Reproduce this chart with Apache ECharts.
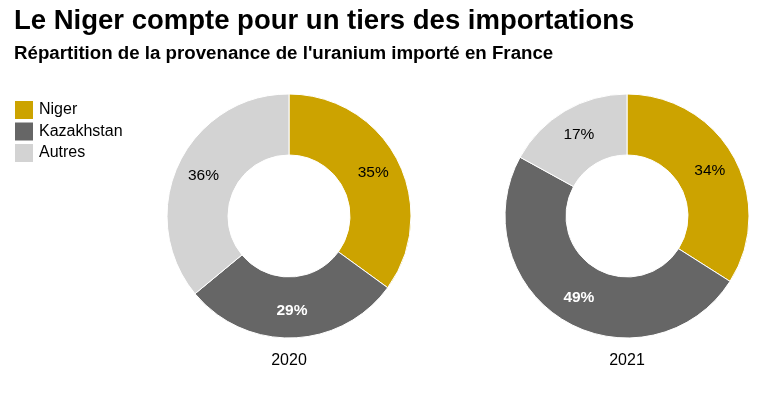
<!DOCTYPE html>
<html>
<head>
<meta charset="utf-8">
<script src="https://cdn.jsdelivr.net/npm/echarts@6/dist/echarts.min.js"></script>
<style>
html,body{margin:0;padding:0;background:#fff;}
#chart{width:779px;height:393px;}
</style>
</head>
<body>
<div id="chart"></div>
<script>
const categories = ['Niger', 'Kazakhstan', 'Autres'];
const years = ['2020', '2021'];
const values2020 = [35, 29, 36];
const values2021 = [34, 49, 17];
const colors = ['#CCA300', '#666666', '#D3D3D3'];
const labelColors = ['#000000', '#ffffff', '#000000'];
const labelWeights = ['normal', 'bold', 'normal'];

const font = '"Liberation Sans", Arial, sans-serif';

function makeData(vals) {
  return categories.map((c, i) => ({
    name: c,
    value: vals[i],
    itemStyle: { color: colors[i] },
    label: { color: labelColors[i], fontWeight: labelWeights[i] }
  }));
}

const centers = [[289, 216], [627, 216]];
const allValues = [values2020, values2021];

const chart = echarts.init(document.getElementById('chart'), null, { renderer: 'canvas' });
chart.setOption({
  animation: false,
  textStyle: { fontFamily: font },
  title: [
    { text: 'Le Niger compte pour un tiers des importations', left: 14, top: 7, padding: 0,
      textStyle: { fontSize: 27.5, fontWeight: 'bold', color: '#000', fontFamily: font } },
    { text: "Répartition de la provenance de l'uranium importé en France", left: 14, top: 44, padding: 0,
      textStyle: { fontSize: 18.7, fontWeight: 'bold', color: '#000', fontFamily: font } },
    { text: years[0], left: centers[0][0], top: 353, textAlign: 'center', padding: 0,
      textStyle: { fontSize: 16, fontWeight: 'normal', color: '#000', fontFamily: font } },
    { text: years[1], left: centers[1][0], top: 353, textAlign: 'center', padding: 0,
      textStyle: { fontSize: 16, fontWeight: 'normal', color: '#000', fontFamily: font } }
  ],
  legend: {
    orient: 'vertical', left: 13, top: 99, padding: 0,
    itemWidth: 20, itemHeight: 20, itemGap: -0.5,
    icon: 'rect',
    data: categories,
    textStyle: { fontSize: 16, color: '#000', fontFamily: font, padding: [0, 0, 0, 0] }
  },
  series: allValues.map((vals, k) => ({
    type: 'pie',
    name: years[k],
    center: centers[k],
    radius: [61, 122],
    startAngle: 90,
    clockwise: true,
    avoidLabelOverlap: false,
    itemStyle: { borderColor: '#ffffff', borderWidth: 1 },
    label: {
      show: true, position: 'inside',
      formatter: '{c}%', fontSize: 15.5, fontFamily: font
    },
    labelLine: { show: false },
    emphasis: { disabled: true },
    data: makeData(vals)
  }))
});
</script>
</body>
</html>
